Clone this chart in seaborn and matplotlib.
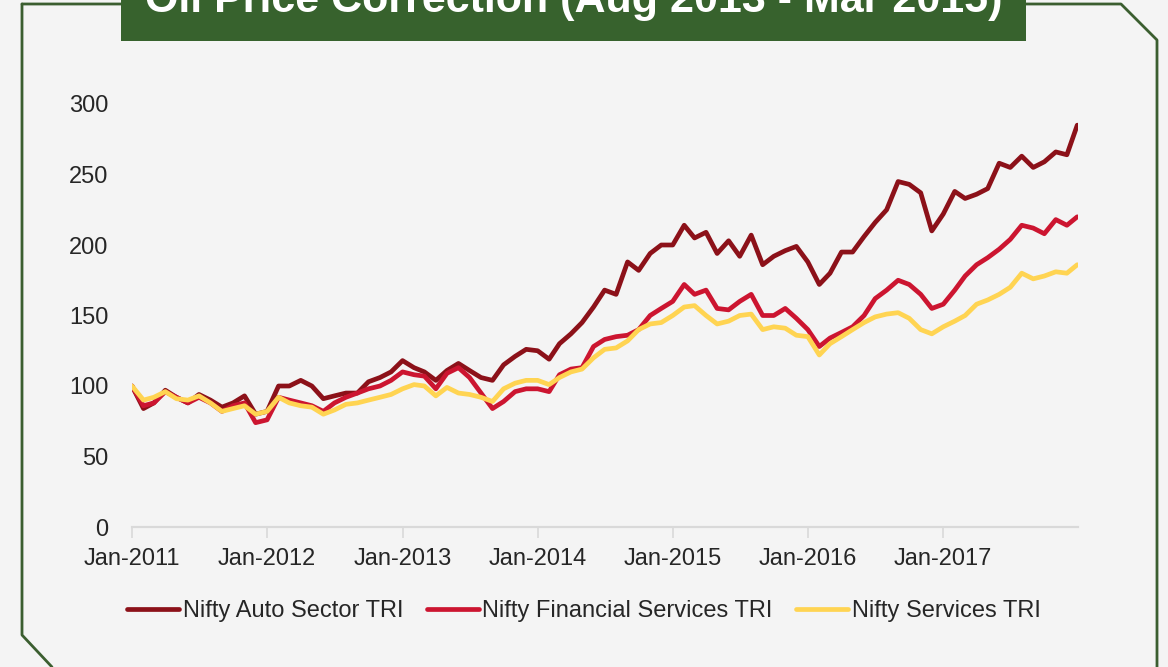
# ── Imports ──────────────────────────────────────────────────────────
import numpy as np
import pandas as pd
import matplotlib
matplotlib.use('Agg')
import matplotlib.pyplot as plt
import matplotlib.dates as mdates
from matplotlib.lines import Line2D
from matplotlib.patches import Rectangle
import seaborn as sns

# ── 1. Data (monthly readings, Jan-2011 .. Dec-2017, rebased to 100) ──
series_names = ['Nifty Auto Sector TRI', 'Nifty Financial Services TRI', 'Nifty Services TRI']

dates = list(pd.date_range('2011-01-01', '2017-12-01', freq='MS')) + [pd.Timestamp('2017-12-29')]

auto_tri = [100, 84, 88, 97, 92, 88, 94, 90, 85, 88, 93, 80,
            82, 100, 100, 104, 100, 91, 93, 95, 95, 103, 106, 110,
            118, 113, 110, 104, 111, 116, 111, 106, 104, 115, 121, 126,
            125, 119, 130, 137, 145, 156, 168, 165, 188, 182, 194, 200,
            200, 214, 205, 209, 194, 203, 192, 207, 186, 192, 196, 199,
            188, 172, 180, 195, 195, 206, 216, 225, 245, 243, 237, 210,
            222, 238, 233, 236, 240, 258, 255, 263, 255, 259, 266, 264, 285]

fin_tri = [100, 86, 88, 96, 92, 88, 92, 88, 82, 86, 88, 74,
           76, 92, 90, 88, 86, 82, 88, 92, 95, 98, 100, 104,
           110, 108, 107, 98, 109, 113, 106, 95, 84, 89, 96, 98,
           98, 96, 108, 112, 113, 128, 133, 135, 136, 140, 150, 155,
           160, 172, 165, 168, 155, 154, 160, 165, 150, 150, 155, 148,
           140, 128, 134, 138, 142, 150, 162, 168, 175, 172, 165, 155,
           158, 168, 178, 186, 191, 197, 204, 214, 212, 208, 218, 214, 220]

services_tri = [100, 90, 92, 96, 91, 90, 93, 88, 82, 84, 86, 80,
                82, 92, 88, 86, 85, 80, 83, 87, 88, 90, 92, 94,
                98, 101, 100, 93, 99, 95, 94, 92, 89, 98, 102, 104,
                104, 101, 106, 110, 112, 120, 126, 127, 132, 140, 144, 145,
                150, 156, 157, 150, 144, 146, 150, 151, 140, 142, 141, 136,
                135, 122, 130, 135, 140, 145, 149, 151, 152, 148, 140, 137,
                142, 146, 150, 158, 161, 165, 170, 180, 176, 178, 181, 180, 186]

year_ticks = pd.date_range('2011-01-01', '2017-01-01', freq='YS')
y_ticks = [0, 50, 100, 150, 200, 250, 300]

title_text = 'Oil Price Correction (Aug 2013 - Mar 2015)'

df = pd.DataFrame({
    'date': dates * 3,
    'value': auto_tri + fin_tri + services_tri,
    'series': sum([[name] * len(dates) for name in series_names], []),
})

# ── 2. Styling ───────────────────────────────────────────────────────
sns.set_style('white')
plt.rcParams['font.family'] = ['Liberation Sans', 'DejaVu Sans']

palette = {
    'Nifty Auto Sector TRI': '#8c1119',
    'Nifty Financial Services TRI': '#cc1530',
    'Nifty Services TRI': '#ffd452',
}
frame_green = '#3b5e30'
title_green = '#37622d'
text_col = '#262626'

W, H = 1168, 667
fig = plt.figure(figsize=(W / 100, H / 100), dpi=100, facecolor='#f4f4f4')

# plot area in pixel terms of the reference
ax = fig.add_axes([132 / W, 1 - 527 / H, (1078 - 132) / W, (527 - 104) / H])
ax.set_facecolor('none')

sns.lineplot(data=df, x='date', y='value', hue='series', hue_order=series_names,
             palette=palette, linewidth=3.4, ax=ax)
handles, labels = ax.get_legend_handles_labels()
ax.get_legend().remove()

# ── 3. Axes ──────────────────────────────────────────────────────────
ax.set_xlim(pd.Timestamp('2011-01-01'), pd.Timestamp('2017-12-31'))
ax.set_ylim(0, 300)
ax.set_xticks(year_ticks)
ax.xaxis.set_major_formatter(mdates.DateFormatter('%b-%Y'))
ax.set_yticks(y_ticks)
ax.set_xlabel('')
ax.set_ylabel('')
for side in ['top', 'right', 'left']:
    ax.spines[side].set_visible(False)
ax.spines['bottom'].set_color('#d9d9d9')
ax.spines['bottom'].set_linewidth(1.6)
ax.tick_params(axis='x', length=8, width=1.2, color='#d9d9d9', labelsize=17,
               labelcolor=text_col, pad=7, direction='out', bottom=True)
ax.tick_params(axis='y', length=0, labelsize=17, labelcolor=text_col, pad=17)

# ── 4. Legend ────────────────────────────────────────────────────────
fig.legend(handles, labels, loc='center', bbox_to_anchor=(0.5, 1 - 611 / H), ncol=3,
           frameon=False, fontsize=17, handlelength=2.2, handletextpad=0.15,
           columnspacing=1.0, labelcolor=text_col)

# ── 5. Slide frame + title box ───────────────────────────────────────
def px_line(xs, ys):
    fig.add_artist(Line2D([x / W for x in xs], [1 - y / H for y in ys],
                          color=frame_green, linewidth=2.0, transform=fig.transFigure))

px_line([22, 22, 52], [4, 635, 667])
px_line([22, 1121, 1157, 1157], [4, 4, 40, 667])

fig.add_artist(Rectangle((121 / W, 1 - 41 / H), (1026 - 121) / W, 41 / H + 0.01,
                         transform=fig.transFigure, facecolor=title_green,
                         edgecolor='none', zorder=5))
fig.text(574 / W, 1 - 1 / H, title_text, ha='center', va='center', color='white',
         fontsize=31, fontweight='bold', zorder=6)

fig.savefig('out.png', dpi=100, facecolor=fig.get_facecolor())
